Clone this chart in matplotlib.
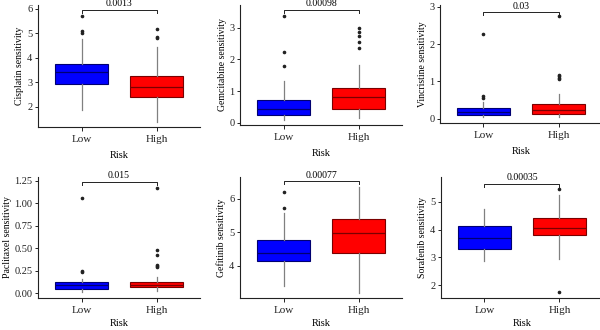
import matplotlib
matplotlib.use("Agg")
import matplotlib.pyplot as plt

plt.rcParams['font.family'] = ['Liberation Serif', 'DejaVu Serif']

groups = ["Low", "High"]
drugs = ["Cisplatin", "Gemcitabine", "Vincristine", "Paclitaxel", "Gefitinib", "Sorafenib"]
pvals = ["0.0013", "0.00098", "0.03", "0.015", "0.00077", "0.00035"]

# whislo, q1, med, q3, whishi for Low / High
cisplatin = [[1.88, 2.94, 3.44, 3.74, 4.78], [1.40, 2.42, 2.80, 3.28, 4.46]]
gemcitabine = [[0.08, 0.25, 0.43, 0.71, 1.33], [0.15, 0.42, 0.81, 1.11, 1.82]]
vincristine = [[0.04, 0.10, 0.17, 0.27, 0.45], [0.03, 0.13, 0.24, 0.39, 0.67]]
paclitaxel = [[0.01, 0.045, 0.085, 0.12, 0.16], [0.02, 0.065, 0.095, 0.125, 0.18]]
gefitinib = [[3.39, 4.13, 4.38, 4.77, 5.56], [3.20, 4.38, 4.96, 5.38, 6.33]]
sorafenib = [[2.88, 3.30, 3.69, 4.11, 4.74], [2.95, 3.81, 4.07, 4.42, 5.23]]

cisplatin_out = [[5.0, 5.1, 5.7], [4.8, 4.85, 5.2]]
gemcitabine_out = [[1.78, 2.25, 3.38], [2.37, 2.55, 2.75, 2.88, 2.98]]
vincristine_out = [[0.55, 0.6, 2.27], [1.05, 1.1, 1.15, 1.18, 2.75]]
paclitaxel_out = [[0.23, 0.24, 1.06], [0.29, 0.30, 0.31, 0.42, 0.48, 1.17]]
gefitinib_out = [[5.73, 6.2], []]
sorafenib_out = [[], [1.75, 5.45]]

stats = [cisplatin, gemcitabine, vincristine, paclitaxel, gefitinib, sorafenib]
outs = [cisplatin_out, gemcitabine_out, vincristine_out, paclitaxel_out, gefitinib_out, sorafenib_out]

# axis ranges and ticks for each panel
ylims = [(1.18, 6.16), (-0.07, 3.72), (-0.12, 3.05), (-0.055, 1.29), (3.04, 6.64), (1.55, 5.88)]
yticks = [[2, 3, 4, 5, 6], [0, 1, 2, 3], [0, 1, 2, 3],
          [0, 0.25, 0.5, 0.75, 1.0, 1.25], [4, 5, 6], [2, 3, 4, 5]]
ytick_fmt = ["{:g}", "{:g}", "{:g}", "{:.2f}", "{:g}", "{:g}"]
bracket_y = [5.96, 3.56, 2.85, 1.235, 6.51, 5.63]

W, H = 600, 330
lefts = [38, 240, 440, 38, 240, 441]
bottoms = [127, 125, 123, 298, 298, 298]
tops = [5, 5, 5, 177, 177, 177]
xlab_pad = [4.5, 4.5, 4.5, 2.5, 2.5, 2.5]
pw = 162

fills = ["#0000FF", "#FF0000"]
edges = ["#000070", "#7a0000"]

fig = plt.figure(figsize=(W / 100, H / 100), dpi=100)

for i in range(6):
    ax = fig.add_axes([lefts[i] / W, (H - bottoms[i]) / H, pw / W, (bottoms[i] - tops[i]) / H])
    for j in range(2):
        lo, q1, med, q3, hi = stats[i][j]
        d = dict(whislo=lo, q1=q1, med=med, q3=q3, whishi=hi, fliers=outs[i][j], label=groups[j])
        ax.bxp([d], positions=[j + 1], widths=0.7, patch_artist=True, showcaps=False,
               boxprops=dict(facecolor=fills[j], edgecolor=edges[j], linewidth=0.8),
               medianprops=dict(color=edges[j], linewidth=0.9),
               whiskerprops=dict(color="#808080", linewidth=0.9),
               flierprops=dict(marker="o", markersize=1.6, markerfacecolor="#222222",
                               markeredgecolor="#222222"),
               zorder=2)
    ax.set_xlim(0.42, 2.58)
    ax.set_ylim(*ylims[i])
    ax.set_xticks([1, 2])
    ax.set_xticklabels(groups, fontsize=8)
    ax.set_yticks(yticks[i])
    ax.set_yticklabels([ytick_fmt[i].format(t) for t in yticks[i]], fontsize=7.5)
    ax.spines["top"].set_visible(False)
    ax.spines["right"].set_visible(False)
    for s in ["left", "bottom"]:
        ax.spines[s].set_linewidth(0.8)
        ax.spines[s].set_color("#222222")
    ax.tick_params(axis="x", length=3, width=0.7, pad=3, colors="#222222")
    ax.tick_params(axis="y", length=2.5, width=0.7, pad=1.5, colors="#222222")
    ax.set_xlabel("Risk", fontsize=7.5, labelpad=xlab_pad[i])
    ax.set_ylabel(drugs[i] + " sensitivity", fontsize=7, labelpad=2)

    # significance bracket
    yb = bracket_y[i]
    drop = (ylims[i][1] - ylims[i][0]) * 0.025
    ax.plot([1, 1, 2, 2], [yb - drop, yb, yb, yb - drop], color="#222222", lw=0.7,
            clip_on=False)
    ax.text(1.5, yb + drop * 0.6, pvals[i], ha="center", va="bottom", fontsize=7,
            clip_on=False)

fig.savefig("out.png", dpi=100)
